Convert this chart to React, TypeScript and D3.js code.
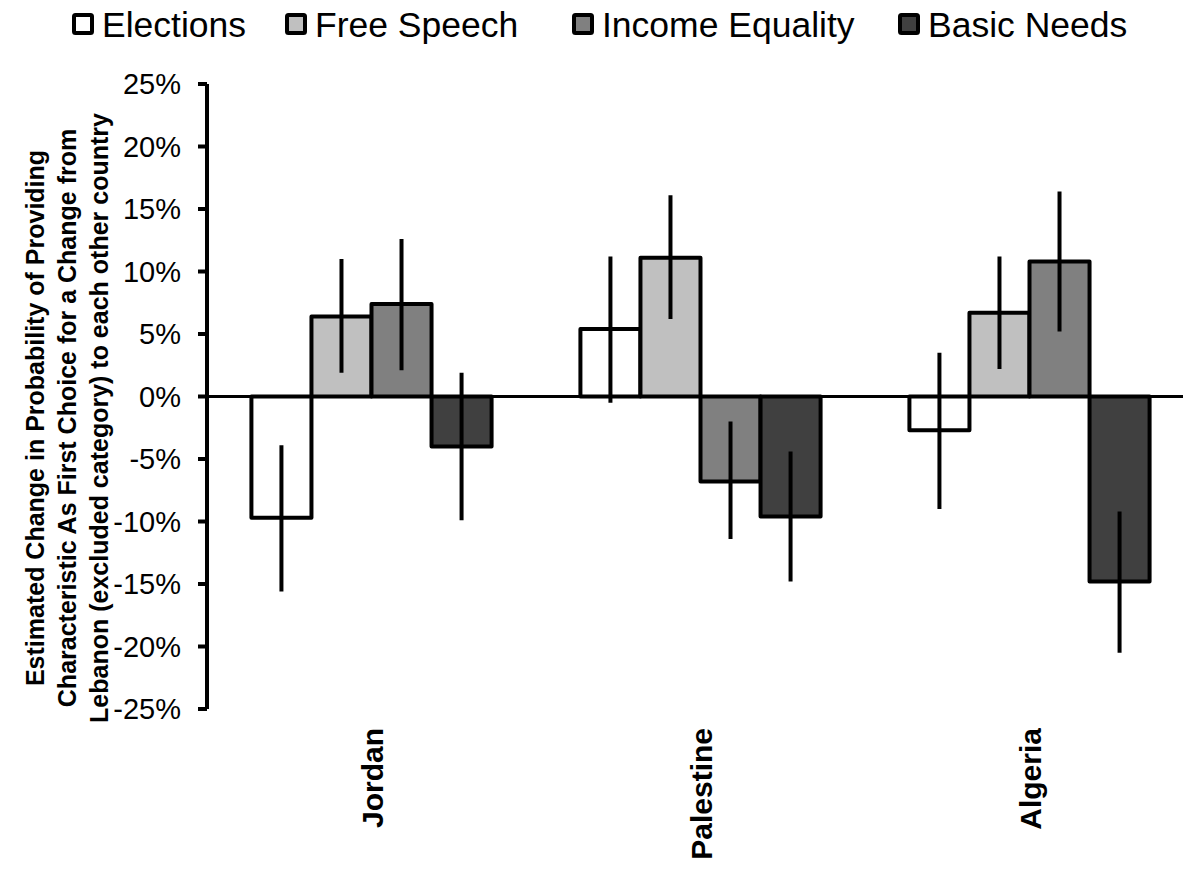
import React from 'react';
import * as d3 from 'd3';

const countries = ['Jordan', 'Palestine', 'Algeria'];
const seriesNames = ['Elections', 'Free Speech', 'Income Equality', 'Basic Needs'];
const seriesColors = ['#ffffff', '#c0c0c0', '#808080', '#404040'];

// estimates per series, in country order
const elections = [-9.7, 5.4, -2.7];
const freeSpeech = [6.4, 11.1, 6.7];
const incomeEquality = [7.4, -6.8, 10.8];
const basicNeeds = [-4.0, -9.6, -14.8];

// confidence interval ends [low, high]
const electionsCI = [[-15.6, -3.9], [-0.5, 11.2], [-9.0, 3.5]];
const freeSpeechCI = [[1.9, 11.0], [6.2, 16.1], [2.2, 11.2]];
const incomeEqualityCI = [[2.1, 12.6], [-11.4, -2.0], [5.2, 16.4]];
const basicNeedsCI = [[-9.9, 1.9], [-14.8, -4.4], [-20.5, -9.2]];

const yTicks = [-25, -20, -15, -10, -5, 0, 5, 10, 15, 20, 25];

const W = 1183;
const H = 872;
const font = 'Arial, "Liberation Sans", Helvetica, sans-serif';

const App = () => {
  const values = [elections, freeSpeech, incomeEquality, basicNeeds];
  const cis = [electionsCI, freeSpeechCI, incomeEqualityCI, basicNeedsCI];

  const x0 = d3.scaleBand().domain(countries).range([207, 1194]).paddingInner(0.27).paddingOuter(0.135);
  const x1 = d3.scaleBand().domain(seriesNames).range([0, x0.bandwidth()]);
  const y = d3.scaleLinear().domain([-25, 25]).range([709, 84]);

  const legendX = [72, 285, 572, 898];

  return (
    <svg width={W} height={H} style={{ position: 'absolute', left: 0, top: 0, background: '#fff' }}>
      {/* legend */}
      {seriesNames.map((s, i) => (
        <g key={s}>
          <rect x={legendX[i] + 2} y={15} width={18} height={18} fill={seriesColors[i]} stroke="#000" strokeWidth={4} rx={1.5} />
          <text x={legendX[i] + 30} y={37} fontFamily={font} fontSize={35.5} fill="#000">{s}</text>
        </g>
      ))}

      {/* bars */}
      {countries.map((c, ci) => (
        <g key={c} transform={`translate(${x0(c)},0)`}>
          {seriesNames.map((s, si) => {
            const v = values[si][ci];
            return (
              <rect key={s} x={x1(s)} y={y(Math.max(0, v))} width={x1.bandwidth()}
                height={Math.abs(y(v) - y(0))} fill={seriesColors[si]} stroke="#000" strokeWidth={4} strokeLinejoin="round" />
            );
          })}
        </g>
      ))}

      {/* zero line */}
      <line x1={207} x2={W} y1={y(0)} y2={y(0)} stroke="#000" strokeWidth={3} />

      {/* error bars */}
      {countries.map((c, ci) => (
        <g key={c} transform={`translate(${x0(c)},0)`}>
          {seriesNames.map((s, si) => {
            const [lo, hi] = cis[si][ci];
            const cx = (x1(s) as number) + x1.bandwidth() / 2;
            return <line key={s} x1={cx} x2={cx} y1={y(lo)} y2={y(hi)} stroke="#000" strokeWidth={4} />;
          })}
        </g>
      ))}

      {/* y axis */}
      <line x1={207} x2={207} y1={y(-25)} y2={y(25)} stroke="#000" strokeWidth={4} />
      {yTicks.map(t => (
        <g key={t}>
          <line x1={198} x2={207} y1={y(t)} y2={y(t)} stroke="#000" strokeWidth={4} />
          <text x={181} y={y(t)} dy="0.36em" textAnchor="end" fontFamily={font} fontSize={29} fill="#000">{t}%</text>
        </g>
      ))}

      {/* y title */}
      <g transform="translate(0,418) rotate(-90)" fontFamily={font} fontSize={25} fontWeight="bold" textAnchor="middle" fill="#000">
        <text x={0} y={44}>Estimated Change in Probability of Providing</text>
        <text x={0} y={76}>Characteristic As First Choice for a Change from</text>
        <text x={0} y={108}>Lebanon (excluded category) to each other country</text>
      </g>

      {/* category labels */}
      {countries.map(c => {
        const cx = (x0(c) as number) + x0.bandwidth() / 2;
        return (
          <text key={c} transform={`translate(${cx + 11},728) rotate(-90)`} textAnchor="end"
            fontFamily={font} fontSize={30} fontWeight="bold" fill="#000">{c}</text>
        );
      })}
    </svg>
  );
};

export default App;
